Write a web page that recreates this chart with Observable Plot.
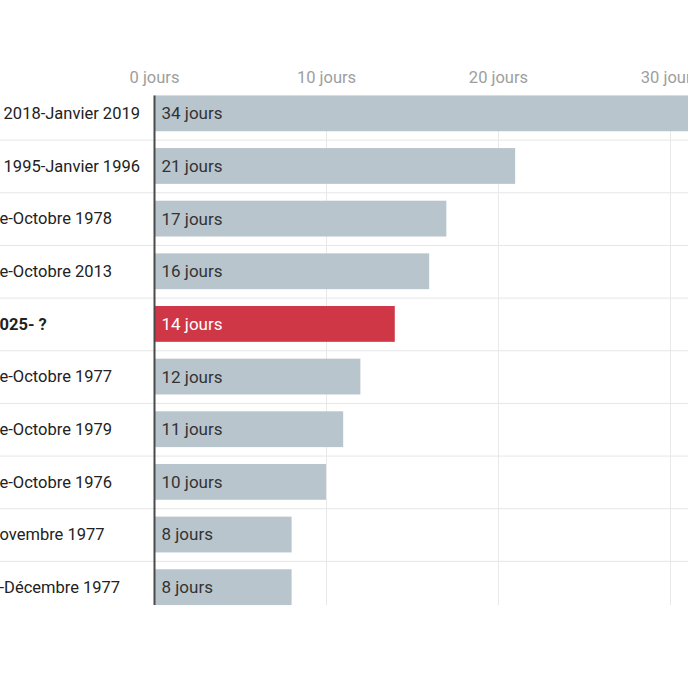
<!DOCTYPE html>
<html><head><meta charset="utf-8">
<script src="https://cdn.jsdelivr.net/npm/d3@7"></script>
<script src="https://cdn.jsdelivr.net/npm/@observablehq/plot@0.6"></script>
<style>
html,body{margin:0;padding:0;background:#fff;overflow:hidden;}
#chart svg{max-width:none;display:block;}
</style></head><body><div id="chart"></div>
<script>
// Row labels as visible in the (cropped) reference
const periods = [" 2018-Janvier 2019", " 1995-Janvier 1996", "e-Octobre 1978", "e-Octobre 2013", "025- ?", "e-Octobre 1977", "e-Octobre 1979", "e-Octobre 1976", "ovembre 1977", "-Décembre 1977"];
const days = [34, 21, 17, 16, 14, 12, 11, 10, 8, 8];
const current = [false, false, false, false, true, false, false, false, false, false];
const xTicks = [0, 10, 20, 30];
const unit = "jours";

const data = periods.map((p, i) => ({period: p, days: days[i], current: current[i]}));

const W = 688, H = 688, mT = 87, mB = 74.5, mL = 154;
const step = (H - mT - mB) / periods.length;
const padOuter = 0.16;

const chart = Plot.plot({
  width: W, height: H,
  marginLeft: mL, marginRight: 0, marginTop: mT, marginBottom: mB,
  style: {fontFamily: "Roboto, sans-serif", background: "#fff"},
  x: {domain: [0, 31.05], axis: null},
  y: {domain: periods, paddingInner: 0.32, paddingOuter: padOuter, round: false, axis: null},
  color: {domain: [false, true], range: ["#b9c5cd", "#cf3747"]},
  marks: [
    Plot.ruleY(periods.slice(1), {y: d => d, dy: -step / 2, stroke: "#e6e6e6", insetLeft: -mL}),
    Plot.ruleX(xTicks.slice(1), {x: d => d, stroke: "#e8e8e8", insetTop: step * padOuter, insetBottom: step * padOuter}),
    Plot.barX(data, {x: "days", y: "period", fill: "current"}),
    Plot.ruleX([0], {x: d => d, stroke: "#4a4a4a", strokeWidth: 2, insetTop: step * padOuter, insetBottom: step * padOuter}),
    Plot.axisX({anchor: "top", ticks: xTicks, tickSize: 0, tickPadding: 5, tickFormat: d => `${d} ${unit}`, fontSize: 16.5, fill: "#9e9e9e", label: null}),
    Plot.text(data.filter(d => !d.current), {x: 0, y: "period", text: d => `${d.days} ${unit}`, textAnchor: "start", dx: 7, fontSize: 17, fill: "#333"}),
    Plot.text(data.filter(d => d.current), {x: 0, y: "period", text: d => `${d.days} ${unit}`, textAnchor: "start", dx: 7, fontSize: 17, fill: "#fff"}),
    Plot.text(data.filter(d => !d.current), {x: 0, y: "period", text: "period", textAnchor: "start", dx: -mL - 1, fontSize: 16.5, fill: "#222"}),
    Plot.text(data.filter(d => d.current), {x: 0, y: "period", text: "period", textAnchor: "start", dx: -mL - 1, fontSize: 16.5, fontWeight: "bold", fill: "#222"})
  ]
});
document.getElementById("chart").append(chart);
</script></body></html>
